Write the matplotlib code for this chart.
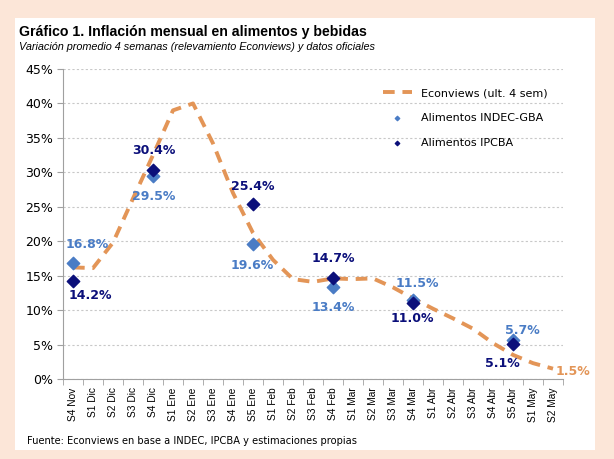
import numpy as np
import matplotlib.pyplot as plt
from matplotlib.patches import Rectangle

# semanas
semanas = ["S4 Nov", "S1 Dic", "S2 Dic", "S3 Dic", "S4 Dic", "S1 Ene", "S2 Ene",
           "S3 Ene", "S4 Ene", "S5 Ene", "S1 Feb", "S2 Feb", "S3 Feb", "S4 Feb",
           "S1 Mar", "S2 Mar", "S3 Mar", "S4 Mar", "S1 Abr", "S2 Abr", "S3 Abr",
           "S4 Abr", "S5 Abr", "S1 May", "S2 May"]
econviews = [16.2, 16.1, 19.8, 26.2, 32.5, 39.0, 40.0, 34.2, 27.0, 21.2, 17.3,
             14.5, 14.1, 14.6, 14.5, 14.6, 13.3, 11.7, 10.2, 8.8, 7.3, 5.2, 3.5,
             2.3, 1.5]
# datos oficiales
idx_oficial = [0, 4, 9, 13, 17, 22]
indec_gba = [16.8, 29.5, 19.6, 13.4, 11.5, 5.7]
ipcba = [14.2, 30.4, 25.4, 14.7, 11.0, 5.1]

naranja = "#E39557"
celeste = "#4A7CC5"
azul = "#0B0F7A"
arial = "Liberation Sans"

fig = plt.figure(figsize=(6.14, 4.59), dpi=100)
fig.patch.set_facecolor("#FCE6D8")
fig.add_artist(Rectangle((15 / 614, 1 - 450 / 459), 580 / 614, 432 / 459,
                         transform=fig.transFigure, facecolor="white",
                         edgecolor="none", zorder=0))

ax = fig.add_axes([63 / 614, 1 - 379 / 459, 500 / 614, 310 / 459])
ax.set_facecolor("white")
x = np.arange(len(semanas))

ax.plot(x, econviews, color=naranja, lw=2.8, ls=(0, (3, 2)),
        label="Econviews (ult. 4 sem)", zorder=3)
ax.scatter(idx_oficial, indec_gba, marker="D", s=40, color=celeste,
           label="Alimentos INDEC-GBA", zorder=4)
ax.scatter(idx_oficial, ipcba, marker="D", s=40, color=azul,
           label="Alimentos IPCBA", zorder=5)

# etiquetas (dx, dy en pixeles)
off_indec = [(14, 19), (1, -21), (-1, -22), (0, -21), (4, 16), (9, 9)]
off_ipcba = [(17, -14), (1, 19), (0, 18), (0, 19), (-1, -15), (-11, -20)]
for i, v, o in zip(idx_oficial, indec_gba, off_indec):
    ax.annotate(f"{v:.1f}%", (i, v), xytext=o, textcoords="offset pixels",
                ha="center", va="center", color=celeste, fontsize=9,
                fontweight="bold")
for i, v, o in zip(idx_oficial, ipcba, off_ipcba):
    ax.annotate(f"{v:.1f}%", (i, v), xytext=o, textcoords="offset pixels",
                ha="center", va="center", color=azul, fontsize=9,
                fontweight="bold")
ax.annotate(f"{econviews[-1]:.1f}%", (x[-1], econviews[-1]), xytext=(20, -3),
            textcoords="offset pixels", ha="center", va="center",
            color=naranja, fontsize=9, fontweight="bold",
            annotation_clip=False)

ax.set_xlim(-0.5, len(semanas) - 0.5)
ax.set_ylim(0, 45)
ax.set_yticks(np.arange(0, 46, 5))
ax.set_yticklabels([f"{t}%" for t in range(0, 46, 5)], fontsize=9)
ax.set_xticks(x)
ax.set_xticklabels(semanas, rotation=90, fontsize=7.3, family=arial)
ax.set_xticks(np.arange(-0.5, len(semanas), 1), minor=True)
ax.tick_params(axis="x", which="major", length=0, pad=6)
ax.tick_params(axis="x", which="minor", length=4, color="#A0A0A0")
ax.tick_params(axis="y", length=4, color="#A0A0A0", pad=3)
ax.grid(axis="y", color="#C8C8C8", ls=(0, (2, 2)), lw=0.8)
ax.set_axisbelow(True)
for s in ["top", "right"]:
    ax.spines[s].set_visible(False)
for s in ["left", "bottom"]:
    ax.spines[s].set_color("#A0A0A0")

leg = ax.legend(loc="upper left", bbox_to_anchor=(0.62, 0.97), frameon=False,
                fontsize=8, handlelength=2.6, labelspacing=1.35,
                markerscale=0.35)

fig.text(19 / 614, 1 - 32 / 459, "Gráfico 1. Inflación mensual en alimentos y bebidas",
         fontsize=10.2, fontweight="bold", va="center", family=arial)
fig.text(19 / 614, 1 - 47 / 459,
         "Variación promedio 4 semanas (relevamiento Econviews) y datos oficiales",
         fontsize=7.8, style="italic", va="center", family=arial)
fig.text(27 / 614, 1 - 441 / 459,
         "Fuente: Econviews en base a INDEC, IPCBA y estimaciones propias",
         fontsize=7.1, va="center")

fig.savefig("out.png", dpi=100, facecolor=fig.get_facecolor())
